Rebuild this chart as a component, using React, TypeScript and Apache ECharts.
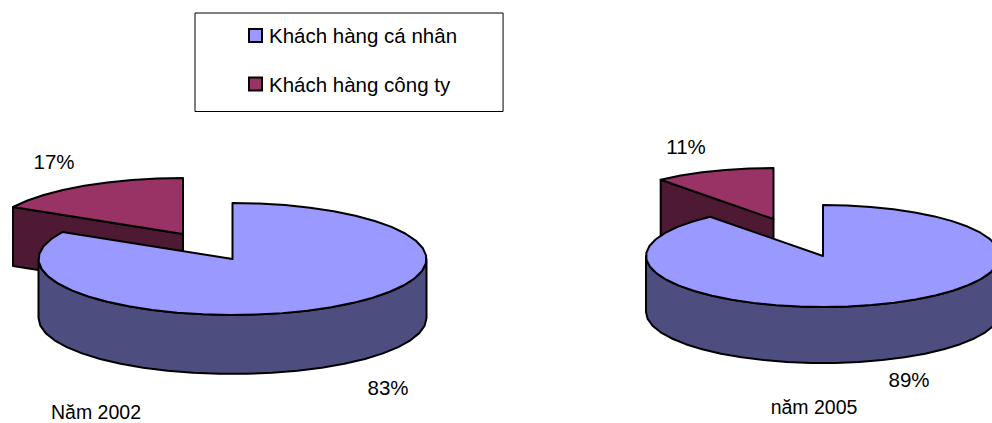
import React, { useEffect, useRef } from "react";
import * as echarts from "echarts";

// Customer mix per year, in percent.
const years = ["Năm 2002", "năm 2005"];
const individualShare = [83, 89];
const corporateShare = [17, 11];
const individualName = "Khách hàng cá nhân";
const corporateName = "Khách hàng công ty";

// Ellipse geometry and text anchors for each pie.
const pieLayouts = [
  {
    cx: 232.5, cy: 259, rx: 194, ry: 56, depth: 59,
    burst: [-49.5, -25],
    individualLabel: [388, 387], corporateLabel: [54, 161], yearLabel: [96, 412],
  },
  {
    cx: 823, cy: 256, rx: 177, ry: 51, depth: 56,
    burst: [-49.5, -37],
    individualLabel: [909, 379], corporateLabel: [686, 146], yearLabel: [814, 407],
  },
];

const FONT = '"Liberation Sans", Arial, sans-serif';
const STROKE = "#000000";
const ARC_STEP_DEG = 8;

type Layout = (typeof pieLayouts)[number];

function rimPoint(l: Layout, deg: number, ox: number, oy: number) {
  const a = (deg * Math.PI) / 180;
  return [l.cx + ox + l.rx * Math.sin(a), l.cy + oy - l.ry * Math.cos(a)];
}

function arcPoints(l: Layout, from: number, to: number, ox: number, oy: number) {
  const pts: number[][] = [];
  const steps = Math.max(2, Math.ceil((to - from) / ARC_STEP_DEG));
  for (let i = 0; i <= steps; i++) pts.push(rimPoint(l, from + ((to - from) * i) / steps, ox, oy));
  return pts;
}

// One extruded wedge: visible wall, cut face, top face and its percentage.
function wedge(
  pieIndex: number,
  share: number,
  startShare: number,
  top: string,
  wall: string,
  labelKey: "individualLabel" | "corporateLabel",
  exploded: boolean,
) {
  const l = pieLayouts[pieIndex];
  const [ox, oy] = exploded ? l.burst : [0, 0];
  const start = (startShare / 100) * 360;
  const end = ((startShare + share) / 100) * 360;
  const apex = [l.cx + ox, l.cy + oy];
  const children: any[] = [];
  const lineStyle = { stroke: STROKE, lineWidth: 2, lineJoin: "round" };

  const from = Math.max(start, 90);
  const to = Math.min(end, 270);
  if (to > from) {
    const upper = arcPoints(l, from, to, ox, oy);
    const lower = upper.map(([x, y]) => [x, y + l.depth]).reverse();
    children.push({
      type: "polygon",
      shape: { points: upper.concat(lower) },
      style: { fill: wall, ...lineStyle },
    });
  }
  if (start > 180) {
    const rim = rimPoint(l, start, ox, oy);
    children.push({
      type: "polygon",
      shape: {
        points: [apex, rim, [rim[0], rim[1] + l.depth], [apex[0], apex[1] + l.depth]],
      },
      style: { fill: wall, ...lineStyle },
    });
  }
  children.push({
    type: "polygon",
    shape: { points: [apex, ...arcPoints(l, start, end, ox, oy)] },
    style: { fill: top, ...lineStyle },
  });
  children.push({
    type: "text",
    x: l[labelKey][0],
    y: l[labelKey][1],
    style: {
      text: `${share}%`,
      font: `20.5px ${FONT}`,
      fill: "#000",
      align: "center",
      verticalAlign: "middle",
    },
  });
  return { type: "group", children };
}

const App = () => {
  const ref = useRef<HTMLDivElement>(null);

  useEffect(() => {
    const chart = echarts.init(ref.current!, undefined, { renderer: "svg" });
    chart.setOption({
      animation: false,
      backgroundColor: "#ffffff",
      legend: {
        data: [individualName, corporateName],
        orient: "vertical",
        left: 195,
        top: 13,
        selectedMode: false,
        backgroundColor: "#fff",
        borderColor: "#000",
        borderWidth: 1,
        padding: [12, 46, 17, 53],
        itemGap: 27.5,
        itemWidth: 13,
        itemHeight: 13,
        icon: "rect",
        textStyle: { fontFamily: FONT, fontSize: 20.5, color: "#000", padding: [0, 0, 0, 2] },
      },
      graphic: pieLayouts.map((l, i) => ({
        type: "text",
        x: l.yearLabel[0],
        y: l.yearLabel[1],
        style: {
          text: years[i],
          font: `19.5px ${FONT}`,
          fill: "#000",
          align: "center",
          verticalAlign: "middle",
        },
      })),
      series: [
        {
          type: "custom",
          name: corporateName,
          coordinateSystem: "none",
          itemStyle: { color: "#993366", borderColor: "#000", borderWidth: 2 },
          data: corporateShare.map((v, i) => [i, v, individualShare[i]]),
          renderItem: (_: any, api: any) =>
            wedge(api.value(0), api.value(1), api.value(2), "#993366", "#4D1933", "corporateLabel", true),
        },
        {
          type: "custom",
          name: individualName,
          coordinateSystem: "none",
          itemStyle: { color: "#9999FF", borderColor: "#000", borderWidth: 2 },
          data: individualShare.map((v, i) => [i, v, 0]),
          renderItem: (_: any, api: any) =>
            wedge(api.value(0), api.value(1), api.value(2), "#9999FF", "#4D4D80", "individualLabel", false),
        },
      ],
    });
    return () => chart.dispose();
  }, []);

  return (
    <div
      ref={ref}
      style={{ position: "fixed", left: 0, top: 0, width: 992, height: 423 }}
    />
  );
};

export default App;
